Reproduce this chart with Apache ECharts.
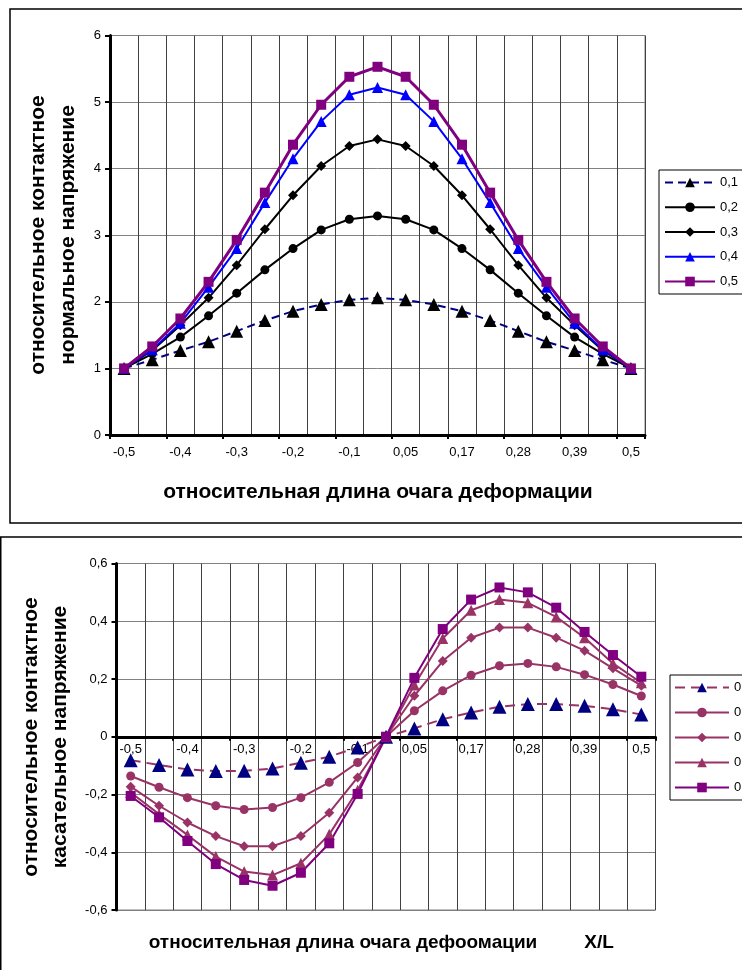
<!DOCTYPE html>
<html>
<head>
<meta charset="utf-8">
<script src="https://cdn.jsdelivr.net/npm/echarts@6/dist/echarts.min.js"></script>
<style>html,body{margin:0;padding:0;background:#fff;}#c{width:742px;height:970px;}</style>
</head>
<body>
<div id="c"></div>
<script>
// categories (x positions along the deformation zone)
const categories = ['-0,5','-0,45','-0,4','-0,35','-0,3','-0,25','-0,2','-0,15','-0,1','-0,02','0,05','0,11','0,17','0,22','0,28','0,33','0,39','0,44','0,5'];
const seriesNames = ['0,1','0,2','0,3','0,4','0,5'];
const yTicksTop = [0,1,2,3,4,5,6];
const yTicksBottom = [-0.6,-0.4,-0.2,0,0.2,0.4,0.6];

// top chart: normal contact stress
const normal01 = [1.00,1.13,1.27,1.40,1.56,1.72,1.86,1.96,2.03,2.06,2.03,1.96,1.86,1.72,1.56,1.40,1.27,1.13,1.00];
const normal02 = [1.00,1.22,1.47,1.79,2.13,2.48,2.80,3.08,3.24,3.29,3.24,3.08,2.80,2.48,2.13,1.79,1.47,1.22,1.00];
const normal03 = [1.00,1.27,1.65,2.06,2.55,3.09,3.60,4.04,4.34,4.44,4.34,4.04,3.60,3.09,2.55,2.06,1.65,1.27,1.00];
const normal04 = [1.00,1.28,1.68,2.22,2.80,3.49,4.15,4.71,5.11,5.22,5.11,4.71,4.15,3.49,2.80,2.22,1.68,1.28,1.00];
const normal05 = [1.00,1.33,1.75,2.30,2.93,3.64,4.36,4.96,5.38,5.53,5.38,4.96,4.36,3.64,2.93,2.30,1.75,1.33,1.00];

// bottom chart: tangential contact stress
const shear01 = [-0.081,-0.098,-0.113,-0.119,-0.118,-0.110,-0.090,-0.069,-0.037,0,0.029,0.061,0.084,0.104,0.113,0.113,0.107,0.095,0.077];
const shear02 = [-0.136,-0.175,-0.211,-0.239,-0.252,-0.245,-0.211,-0.158,-0.089,0,0.090,0.159,0.213,0.246,0.254,0.242,0.215,0.181,0.141];
const shear03 = [-0.173,-0.239,-0.297,-0.344,-0.379,-0.379,-0.344,-0.263,-0.141,0,0.142,0.262,0.343,0.378,0.378,0.343,0.298,0.237,0.177];
const shear04 = [-0.193,-0.268,-0.340,-0.415,-0.467,-0.479,-0.438,-0.338,-0.185,0,0.179,0.340,0.438,0.475,0.464,0.415,0.343,0.254,0.187];
const shear05 = [-0.205,-0.279,-0.361,-0.441,-0.496,-0.516,-0.471,-0.369,-0.198,0,0.204,0.373,0.475,0.517,0.500,0.447,0.363,0.283,0.208];

const FONT = 'Liberation Sans, Arial, sans-serif';
const fmtNum = v => { const r = Math.round(v*10)/10; return (r === 0 ? '0' : String(r)).replace('.', ','); };

const GRID_BOTTOM_H = 346.5;
// place the bottom chart's category axis on the zero line of its value axis
const zeroOffset = -GRID_BOTTOM_H * (0 - yTicksBottom[0]) / (yTicksBottom[yTicksBottom.length-1] - yTicksBottom[0]);

function xAxisCfg(gridIndex, margin, offset) {
  return {
    type: 'category', gridIndex, data: categories, boundaryGap: true, position: 'bottom', offset,
    axisLine: { show: true, onZero: false, lineStyle: { color: '#000', width: 3 } },
    axisTick: { show: true, length: 4, lineStyle: { color: '#000', width: 2 } },
    axisLabel: { interval: 1, margin, fontFamily: FONT, fontSize: 13, color: '#000' },
    splitLine: { show: true, interval: 0, lineStyle: { color: '#404040', width: 1 } }
  };
}
function yAxisCfg(gridIndex, ticks) {
  return {
    type: 'value', gridIndex, min: ticks[0], max: ticks[ticks.length-1],
    interval: Math.round((ticks[1]-ticks[0])*10)/10,
    axisLine: { show: true, onZero: false, lineStyle: { color: '#000', width: 3 } },
    axisTick: { show: true, length: 5, lineStyle: { color: '#000', width: 2 } },
    axisLabel: { margin: 9, fontFamily: FONT, fontSize: 13, color: '#000', formatter: fmtNum },
    splitLine: { show: true, lineStyle: { color: '#808080', width: 1 } }
  };
}

const topStyles = [
  { data: normal01, line: '#000080', w: 2, dash: [8,5], sym: 'triangle', size: 13, mk: '#000000' },
  { data: normal02, line: '#000000', w: 2, dash: 'solid', sym: 'circle', size: 9, mk: '#000000' },
  { data: normal03, line: '#000000', w: 2, dash: 'solid', sym: 'diamond', size: 10, mk: '#000000' },
  { data: normal04, line: '#0000FF', w: 2, dash: 'solid', sym: 'triangle', size: 11, mk: '#0000FF' },
  { data: normal05, line: '#800080', w: 3, dash: 'solid', sym: 'rect', size: 10, mk: '#800080' }
];
const botStyles = [
  { data: shear01, line: '#993366', w: 2, dash: [10,6], sym: 'triangle', size: 14, mk: '#000080' },
  { data: shear02, line: '#993366', w: 2, dash: 'solid', sym: 'circle', size: 9, mk: '#993366' },
  { data: shear03, line: '#993366', w: 2, dash: 'solid', sym: 'diamond', size: 10, mk: '#993366' },
  { data: shear04, line: '#993366', w: 2, dash: 'solid', sym: 'triangle', size: 11, mk: '#993366' },
  { data: shear05, line: '#800080', w: 2, dash: 'solid', sym: 'rect', size: 10, mk: '#800080' }
];

function mkSeries(styles, prefix, idx) {
  return styles.map((s, i) => ({
    type: 'line', name: prefix + seriesNames[i], xAxisIndex: idx, yAxisIndex: idx,
    data: s.data, symbol: s.sym, symbolSize: s.size, showAllSymbol: true,
    lineStyle: { color: s.line, width: s.w, type: s.dash },
    itemStyle: { color: s.mk, borderWidth: 0 },
    emphasis: { disabled: true }, animation: false
  }));
}

const chart = echarts.init(document.getElementById('c'), null, { renderer: 'canvas' });
chart.setOption({
  backgroundColor: '#fff',
  animation: false,
  grid: [
    { left: 110, top: 35.5, width: 535, height: 399.5, show: true, borderColor: '#808080', borderWidth: 1, backgroundColor: 'transparent' },
    { left: 116.5, top: 563.5, width: 539, height: GRID_BOTTOM_H, show: true, borderColor: '#808080', borderWidth: 1, backgroundColor: 'transparent' }
  ],
  xAxis: [xAxisCfg(0, 11, 0), xAxisCfg(1, 6, zeroOffset)],
  yAxis: [yAxisCfg(0, yTicksTop), yAxisCfg(1, yTicksBottom)],
  legend: [
    {
      orient: 'vertical', left: 659, top: 170, data: seriesNames,
      itemWidth: 50, itemHeight: 12, itemGap: 11.75,
      padding: [6, 6, 6, 5], borderColor: '#000', borderWidth: 1,
      textStyle: { fontFamily: FONT, fontSize: 13, color: '#000' },
      selectedMode: false
    },
    {
      orient: 'vertical', left: 670, top: 675, data: seriesNames.map(n => 'b' + n),
      formatter: n => n.slice(1),
      itemWidth: 54, itemHeight: 12, itemGap: 12,
      padding: [6, 6, 6, 4], borderColor: '#000', borderWidth: 1,
      textStyle: { fontFamily: FONT, fontSize: 13, color: '#000' },
      selectedMode: false
    }
  ],
  series: mkSeries(topStyles, '', 0).concat(mkSeries(botStyles, 'b', 1)),
  graphic: [
    { type: 'rect', shape: { x: 10, y: 9, width: 800, height: 514 }, style: { fill: 'none', stroke: '#000', lineWidth: 1.5 }, silent: true, z: -1 },
    { type: 'rect', shape: { x: 0.75, y: 537, width: 800, height: 500 }, style: { fill: 'none', stroke: '#000', lineWidth: 1.5 }, silent: true, z: -1 },
    { type: 'text', x: 38, y: 235, rotation: Math.PI/2, style: { text: 'относительное контактное', font: 'bold 21px ' + FONT, fill: '#000', align: 'center', verticalAlign: 'middle' } },
    { type: 'text', x: 68, y: 235, rotation: Math.PI/2, style: { text: 'нормальное напряжение', font: 'bold 21px ' + FONT, fill: '#000', align: 'center', verticalAlign: 'middle' } },
    { type: 'text', x: 378, y: 492, style: { text: 'относительная длина очага деформации', font: 'bold 21px ' + FONT, fill: '#000', align: 'center', verticalAlign: 'middle' } },
    { type: 'text', x: 31, y: 737, rotation: Math.PI/2, style: { text: 'относительное контактное', font: 'bold 21px ' + FONT, fill: '#000', align: 'center', verticalAlign: 'middle' } },
    { type: 'text', x: 60, y: 737, rotation: Math.PI/2, style: { text: 'касательное напряжение', font: 'bold 21px ' + FONT, fill: '#000', align: 'center', verticalAlign: 'middle' } },
    { type: 'text', x: 343, y: 943, style: { text: 'относительная длина очага дефоомации', font: 'bold 19px ' + FONT, fill: '#000', align: 'center', verticalAlign: 'middle' } },
    { type: 'text', x: 599, y: 943, style: { text: 'X/L', font: 'bold 19px ' + FONT, fill: '#000', align: 'center', verticalAlign: 'middle' } }
  ]
});
</script>
</body>
</html>
